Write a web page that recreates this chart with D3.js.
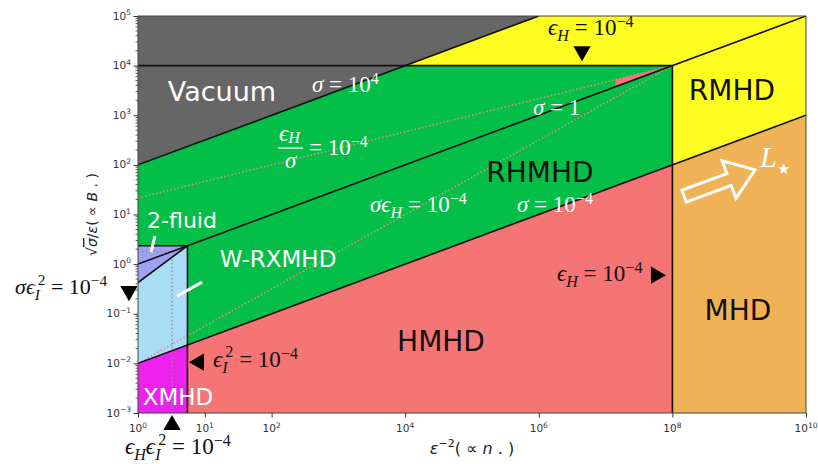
<!DOCTYPE html>
<html><head><meta charset="utf-8">
<script src="https://cdn.jsdelivr.net/npm/d3@7"></script>
<style>
html,body{margin:0;padding:0;background:#fff;}
svg{display:block;}
</style></head>
<body>
<svg id="chart" width="818" height="464"></svg>
<script>
// ---------- data (exponents: X = log10(eps^-2), Y = log10(sqrt(sigma)/eps)) ----------
const xDomainExp = [0, 10];
const yDomainExp = [-3, 5];
const xTickExps = [0, 1, 2, 4, 6, 8, 10];
const yTickExps = [-3, -2, -1, 0, 1, 2, 3, 4, 5];
const XB = 0.74;     // 2-fluid / XMHD box edge
const XD = 0.51;     // eps_H eps_I^2 = 1e-4 (dotted)

const regionNames  = ["Vacuum", "RHMHD", "Relativistic", "HMHD", "MHD", "W-RXMHD", "2-fluid", "XMHD", "sliver"];
const regionColors = ["#666666", "#04bf47", "#fdfd22", "#f57474", "#f0b257", "#a9ddf5", "#a0a0f2", "#ee22ee", "#f57474"];
const regionPoints = [
  [[0,2],[6,5],[0,5]],
  [[0,2],[4,4],[8,4],[8,2],[XB,XB/2-2],[XB,XB/2],[0,XB/2]],
  [[4,4],[6,5],[10,5],[10,3],[8,2],[8,4]],
  [[XB,-3],[8,-3],[8,2],[XB,XB/2-2]],
  [[8,-3],[10,-3],[10,3],[8,2]],
  [[0,-2],[XB,XB/2-2],[XB,XB/2],[0,-XB/2]],
  [[0,-XB/2],[XB,XB/2],[0,XB/2]],
  [[0,-3],[XB,-3],[XB,XB/2-2],[0,-2]],
  [[7.15,3.575],[8,4],[7.15,7.15/3+4/3]]
];
const solidLines = [
  [[0,2],[6,5]],            // sigma = 1e4
  [[0,4],[8,4]],
  [[0,0],[10,5]],           // sigma = 1
  [[0,-2],[10,3]],          // sigma = 1e-4
  [[8,-3],[8,4]],           // eps_H = 1e-4
  [[XB,-3],[XB,XB/2]],
  [[0,XB/2],[XB,XB/2]],
  [[0,-XB/2],[XB,XB/2]]
];
const dottedLines = [
  [[0,4/3],[8,4]],          // eps_H / sigma = 1e-4
  [[0,-2],[8,4]]            // sigma eps_H = 1e-4
];
const dottedGray = [
  [[0,XD/2],[XD,XD/2],[XD,-3]]
];
// text labels (exp coords)
const bigLabels = [
  {t:"Vacuum", p:[1.257,3.285], c:"#fff", fs:27},
  {t:"RHMHD", p:[6.018,1.652], c:"#111", fs:28},
  {t:"RMHD", p:[8.892,3.305], c:"#111", fs:28},
  {t:"HMHD", p:[4.536,-1.753], c:"#111", fs:28},
  {t:"MHD", p:[8.982,-1.128], c:"#111", fs:28},
  {t:"2-fluid", p:[0.659,0.725], c:"#fff", fs:22},
  {t:"W-RXMHD", p:[2.096,-0.06], c:"#fff", fs:23},
  {t:"XMHD", p:[0.599,-2.841], c:"#fff", fs:23}
];
const pointerLines = [
  [[0.254,0.564],[0.195,0.242]],
  [[0.584,-0.645],[0.958,-0.363]]
];
// math labels: parts [text, kind] kind: "" normal, i italic, bi italic sub, p sup, q sup stacked over sub
const mathLabels = [
  {p:[2.605,3.466], c:"#fff", fs:23, parts:[["σ","i"],[" = 10",""],["4","p"]]},
  {p:[5.913,3.0], c:"#fff", fs:23, parts:[["σ","i"],[" = 1",""]]},
  {p:[3.473,1.048], c:"#fff", fs:23, parts:[["σϵ","i"],["H","bi"],[" = 10",""],["−4","p"]]},
  {p:[5.674,1.048], c:"#fff", fs:23, parts:[["σ","i"],[" = 10",""],["−4","p"]]},
  {p:[6.138,4.615], c:"#111", fs:23, parts:[["ϵ","i"],["H","bi"],[" = 10",""],["−4","p"]]},
  {p:[6.272,-0.343], c:"#111", fs:23, parts:[["ϵ","i"],["H","bi"],[" = 10",""],["−4","p"]]},
  {p:[1.123,-2.076], c:"#111", fs:23, parts:[["ϵ","i"],["I","bi"],["2","q"],[" = 10",""],["−4","p"]]},
  {p:[-1.84,-0.605], c:"#111", fs:22, parts:[["σϵ","i"],["I","bi"],["2","q"],[" = 10",""],["−4","p"]]},
  {p:[-0.195,-3.83], c:"#111", fs:23, parts:[["ϵ","i"],["H","bi"],["ϵ","i"],["I","bi"],["2","q"],[" = 10",""],["−4","p"]]}
];
const fractionLabel = {p:[2.096,2.338], c:"#fff"};
const markers = [
  {p:[6.647,4.292], rot:180},   // down
  {p:[7.754,-0.222], rot:90},   // right
  {p:[0.913,-1.975], rot:-90},  // left
  {p:[-0.135,-0.544], rot:180}, // down
  {p:[0.509,-3.244], rot:0}     // up
];
const lstarArrow = {tail:[8.174,1.370], angle:-20.3, len:75.7};
const lstarLabel = {p:[9.311,1.955]};

// ---------- drawing ----------
const svg = d3.select("#chart");
const ml = 138, mr = 806, mt = 16, mb = 413;
const x = d3.scaleLog().domain(xDomainExp.map(e => Math.pow(10,e))).range([ml, mr]);
const y = d3.scaleLog().domain(yDomainExp.map(e => Math.pow(10,e))).range([mb, mt]);
const px = e => x(Math.pow(10, e));
const py = e => y(Math.pow(10, e));

const plot = svg.append("g");
plot.append("defs").append("clipPath").attr("id","clip")
  .append("rect").attr("x",ml).attr("y",mt).attr("width",mr-ml).attr("height",mb-mt);
const g = plot.append("g").attr("clip-path","url(#clip)");

const line = d3.line().x(d => px(d[0])).y(d => py(d[1]));

regionPoints.forEach((pts,i) => {
  g.append("path").attr("d", line(pts) + "Z").attr("fill", regionColors[i])
    .attr("stroke", regionColors[i]).attr("stroke-width", 0.5);
});
dottedGray.forEach(l => g.append("path").attr("d", line(l)).attr("fill","none")
  .attr("stroke","#8a8a9a").attr("stroke-width",1.4).attr("stroke-dasharray","1.4,2.4"));
dottedLines.forEach(l => g.append("path").attr("d", line(l)).attr("fill","none")
  .attr("stroke","#d88c8c").attr("stroke-width",1.6).attr("stroke-dasharray","1.5,2.2"));
solidLines.forEach(l => g.append("path").attr("d", line(l)).attr("fill","none")
  .attr("stroke","#111").attr("stroke-width",1.6));

// frame
svg.append("rect").attr("x",ml).attr("y",mt).attr("width",mr-ml).attr("height",mb-mt)
  .attr("fill","none").attr("stroke","#444").attr("stroke-width",1);

// axes
const fmtSup = e => (e < 0 ? "−" : "") + Math.abs(e);
const xAxis = d3.axisBottom(x).tickValues(xTickExps.map(e => Math.pow(10,e))).tickSize(4.5).tickFormat("");
const gx = svg.append("g").attr("transform",`translate(0,${mb})`).call(xAxis);
gx.select(".domain").remove();
gx.selectAll("line").attr("stroke","#333");
xTickExps.forEach(e => {
  const t = svg.append("text").attr("x", px(e)).attr("y", 432).attr("text-anchor","middle")
    .style("font-family","DejaVu Sans").style("font-size","10.5px").attr("fill","#333");
  t.append("tspan").text("10");
  t.append("tspan").text(fmtSup(e)).attr("dy",-4.5).style("font-size","7.5px");
});
const yAxis = d3.axisLeft(y).tickValues(yTickExps.map(e => Math.pow(10,e))).tickSize(4.5).tickFormat("");
const gy = svg.append("g").attr("transform",`translate(${ml},0)`).call(yAxis);
gy.select(".domain").remove();
gy.selectAll("line").attr("stroke","#333");
const minorY = [];
for (let d = yDomainExp[0]; d < yDomainExp[1]; d++) for (let k = 2; k <= 9; k++) minorY.push(k * Math.pow(10, d));
svg.append("g").selectAll("line").data(minorY).join("line")
  .attr("x1", ml - 2.5).attr("x2", ml).attr("y1", d => y(d)).attr("y2", d => y(d))
  .attr("stroke","#333").attr("stroke-width",0.8);
yTickExps.forEach(e => {
  const t = svg.append("text").attr("x", 131).attr("y", py(e) + 3.5).attr("text-anchor","end")
    .style("font-family","DejaVu Sans").style("font-size","10.5px").attr("fill","#333");
  t.append("tspan").text("10");
  t.append("tspan").text(fmtSup(e)).attr("dy",-4.5).style("font-size","7.5px");
});

// axis labels
const xl = svg.append("text").attr("x",(ml+mr)/2).attr("y",454).attr("text-anchor","middle")
  .style("font-family","DejaVu Sans").style("font-size","16px").attr("fill","#222");
xl.append("tspan").text("ε").style("font-style","italic");
xl.append("tspan").text("−2").attr("dy",-7).style("font-size","11px");
xl.append("tspan").text("( ∝ ").attr("dy",7);
xl.append("tspan").text("n").style("font-style","italic");
xl.append("tspan").text(" . )");

const yl = svg.append("text").attr("transform",`translate(97,${(mt+mb)/2}) rotate(-90)`).attr("text-anchor","middle")
  .style("font-family","DejaVu Sans").style("font-size","14px").attr("fill","#222");
yl.append("tspan").text("√");
yl.append("tspan").text("σ").style("font-style","italic").style("text-decoration","overline");
yl.append("tspan").text("/");
yl.append("tspan").text("ε").style("font-style","italic");
yl.append("tspan").text("( ∝ ");
yl.append("tspan").text("B").style("font-style","italic");
yl.append("tspan").text(" . )");

// region labels
bigLabels.forEach(l => {
  svg.append("text").attr("x", px(l.p[0])).attr("y", py(l.p[1])).attr("text-anchor","middle")
    .style("font-family","DejaVu Sans").style("font-size", l.fs + "px").attr("fill", l.c).text(l.t);
});
pointerLines.forEach(l => svg.append("path").attr("d", line(l)).attr("stroke","#fff")
  .attr("stroke-width",3).attr("fill","none"));

// math labels
const FS = 23;
function mathText(parent, pos, parts, color, fs) {
  const t = parent.append("text").attr("x", px(pos[0])).attr("y", py(pos[1]))
    .style("font-family","'Liberation Serif','DejaVu Serif',serif").style("font-size", fs + "px").attr("fill", color);
  let cur = 0;
  parts.forEach(([s, k]) => {
    let shift = 0, size = fs, it = false, dx = 0;
    if (k.includes("i")) it = true;
    if (k.includes("b")) { shift = 0.26*fs; size = 0.7*fs; }
    if (k === "p") { shift = -0.36*fs; size = 0.7*fs; }
    if (k === "q") { shift = -0.42*fs; size = 0.7*fs; dx = -0.1*fs; }
    const ts = t.append("tspan").text(s).attr("dy", shift - cur).style("font-size", size + "px")
      .style("font-style", it ? "italic" : "normal");
    if (dx) ts.attr("dx", dx);
    cur = shift;
  });
  return t;
}
mathLabels.forEach(m => mathText(svg, m.p, m.parts, m.c, m.fs));

// fraction eps_H / sigma = 1e-4
{
  const fx = px(fractionLabel.p[0]), fy = py(fractionLabel.p[1]);
  const fg = svg.append("g").attr("transform", `translate(${fx},${fy})`);
  const num = fg.append("text").attr("x", 1).attr("y", -7)
    .style("font-family","'Liberation Serif','DejaVu Serif',serif").style("font-size", FS + "px").attr("fill","#fff");
  num.append("tspan").text("ϵ").style("font-style","italic");
  num.append("tspan").text("H").style("font-style","italic").style("font-size",(0.7*FS)+"px").attr("dy",2);
  fg.append("line").attr("x1",0).attr("x2",25).attr("y1",0).attr("y2",0).attr("stroke","#fff").attr("stroke-width",1.2);
  fg.append("text").attr("x",7).attr("y",20).style("font-family","'Liberation Serif','DejaVu Serif',serif")
    .style("font-size", FS + "px").style("font-style","italic").attr("fill","#fff").text("σ");
  const eq = fg.append("text").attr("x",31).attr("y",7)
    .style("font-family","'Liberation Serif','DejaVu Serif',serif").style("font-size", FS + "px").attr("fill","#fff");
  eq.append("tspan").text("= 10");
  eq.append("tspan").text("−4").style("font-size",(0.7*FS)+"px").attr("dy",-0.36*FS);
}

// triangle markers
const tri = d3.symbol().type(d3.symbolTriangle).size(130);
markers.forEach(m => {
  svg.append("path").attr("d", tri()).attr("fill","#000")
    .attr("transform", `translate(${px(m.p[0])},${py(m.p[1])}) rotate(${m.rot})`);
});

// L_star arrow
{
  const L = lstarArrow.len, bw = 6.3, hw = 20, hl = 27.7;
  const shape = [[0,-bw],[L-hl,-bw],[L-hl,-hw],[L,0],[L-hl,hw],[L-hl,bw],[0,bw]];
  svg.append("path").attr("d", d3.line()(shape) + "Z")
    .attr("transform", `translate(${px(lstarArrow.tail[0])},${py(lstarArrow.tail[1])}) rotate(${lstarArrow.angle})`)
    .attr("fill","none").attr("stroke","#fff").attr("stroke-width",3).attr("stroke-linejoin","miter");
  const lt = svg.append("text").attr("x", px(lstarLabel.p[0])).attr("y", py(lstarLabel.p[1]))
    .style("font-family","'Liberation Serif','DejaVu Serif',serif").style("font-size","30px").attr("fill","#fff");
  lt.append("tspan").text("L").style("font-style","italic");
  lt.append("tspan").text("★").style("font-size","15px").attr("dy",7).attr("dx",0);
}
</script>
</body></html>
